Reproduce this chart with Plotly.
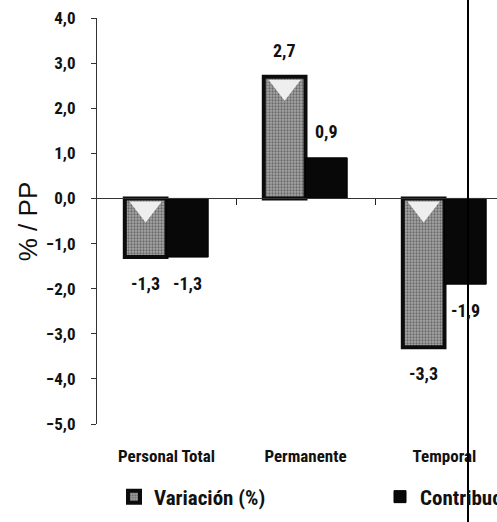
import plotly.graph_objects as go

# Categories and series values
categories = ["Personal Total", "Permanente", "Temporal"]
variacion = [-1.3, 2.7, -3.3]
contribucion = [-1.3, 0.9, -1.9]
series_names = ["Variación (%)", "Contribución (pp)"]
y_title = "% / PP"

y_min, y_max = -5, 4
x_pos = list(range(len(categories)))
bargap = 0.4
half_bar = (1 - bargap) / 4  # centre offset of each bar inside its group

W, H = 497, 522
L, T, B = 97, 17.5, 98
plot_w = W - L
plot_h = H - T - B
px_per_unit = plot_h / (y_max - y_min)
cat_px = 139  # pixel width of one category slot
x_max = -0.5 + plot_w / cat_px

NARROW = "Liberation Sans Narrow, Roboto Condensed, Roboto, sans-serif"
label_font = dict(family=NARROW, size=18, color="#111", weight="bold")

fig = go.Figure()
fig.add_trace(go.Bar(
    x=x_pos, y=variacion, name=series_names[0],
    marker=dict(
        color="#6a6a6a",
        line=dict(color="#0c0c0c", width=4),
        pattern=dict(shape=".", bgcolor="#a6a6a6", fgcolor="#2e2e2e",
                     size=3, solidity=0.45),
    ),
    legend="legend",
))
fig.add_trace(go.Bar(
    x=x_pos, y=contribucion, name=series_names[1],
    marker=dict(color="#080808", line=dict(color="#000", width=1)),
    legend="legend2",
))

# light cap on the top face of each "Variación" cylinder
cap_y = [max(v, 0) - 10 / px_per_unit for v in variacion]
fig.add_trace(go.Scatter(
    x=[i - half_bar for i in x_pos], y=cap_y, mode="markers",
    marker=dict(symbol="triangle-down", size=28, color="#eeeeee",
                line=dict(width=0)),
    showlegend=False, hoverinfo="skip",
))

# value labels above / below the bars
def fmt(v):
    return f"{v:.1f}".replace(".", ",")

for vals, off in ((variacion, -half_bar), (contribucion, half_bar)):
    for i, v in enumerate(vals):
        fig.add_annotation(
            x=i + off, y=v, text=fmt(v), showarrow=False,
            xref="x", yref="y", yanchor="middle",
            yshift=26 if v >= 0 else -26,
            font=label_font,
        )

# rotated y-axis title
fig.add_annotation(
    text=y_title, textangle=-90, showarrow=False,
    xref="paper", yref="paper", x=(28 - L) / plot_w, y=0.497,
    xanchor="center", yanchor="middle",
    font=dict(family="Liberation Sans", size=26, color="#111"),
)

zero_pos = (0 - y_min) / (y_max - y_min)
legend_y = 1 - 497 / H

fig.update_layout(
    width=W, height=H,
    margin=dict(l=L, r=0, t=T, b=B, pad=0),
    paper_bgcolor="white", plot_bgcolor="white",
    barmode="group", bargap=bargap, bargroupgap=0,
    separators=",.",
    font=dict(family=NARROW, color="#111"),
    showlegend=True,
    xaxis=dict(
        range=[-0.5, x_max], tickvals=x_pos, ticktext=categories,
        showline=False, ticks="", showgrid=False, zeroline=False,
        tickfont=dict(family=NARROW, size=17, color="#111", weight="bold"),
        ticklabelstandoff=20,
    ),
    xaxis2=dict(
        overlaying="x", matches="x", anchor="free", position=zero_pos,
        tickvals=[0.5, 1.5, 2.5], showticklabels=False,
        ticks="outside", ticklen=6, tickcolor="#222", tickwidth=1,
        showline=True, linecolor="#333", linewidth=1,
        showgrid=False, zeroline=False,
    ),
    yaxis=dict(
        range=[y_min, y_max], dtick=1, tickformat=".1f",
        showline=True, linecolor="#333", linewidth=1,
        ticks="outside", ticklen=5, tickcolor="#333",
        showgrid=False, zeroline=False,
        tickfont=dict(family=NARROW, size=17, color="#111", weight="bold"),
        ticklabelstandoff=12,
    ),
    legend=dict(
        orientation="h", xref="container", yref="container",
        x=114 / W, y=legend_y, xanchor="left", yanchor="middle",
        itemwidth=30, bgcolor="rgba(0,0,0,0)",
        font=dict(family=NARROW, size=21, color="#111", weight="bold"),
    ),
    legend2=dict(
        orientation="h", xref="container", yref="container",
        x=380 / W, y=legend_y, xanchor="left", yanchor="middle",
        itemwidth=30, bgcolor="rgba(0,0,0,0)",
        font=dict(family=NARROW, size=21, color="#111", weight="bold"),
    ),
    shapes=[dict(
        type="line", xref="paper", yref="paper",
        x0=(468 - L) / plot_w, x1=(468 - L) / plot_w,
        y0=-B / plot_h - 0.05, y1=1 + T / plot_h + 0.05,
        line=dict(color="#000", width=2), layer="above",
    )],
)
# empty trace so the zero-line axis is created
fig.add_trace(go.Scatter(x=[], y=[], xaxis="x2", showlegend=False))

fig.write_html("out.html")
